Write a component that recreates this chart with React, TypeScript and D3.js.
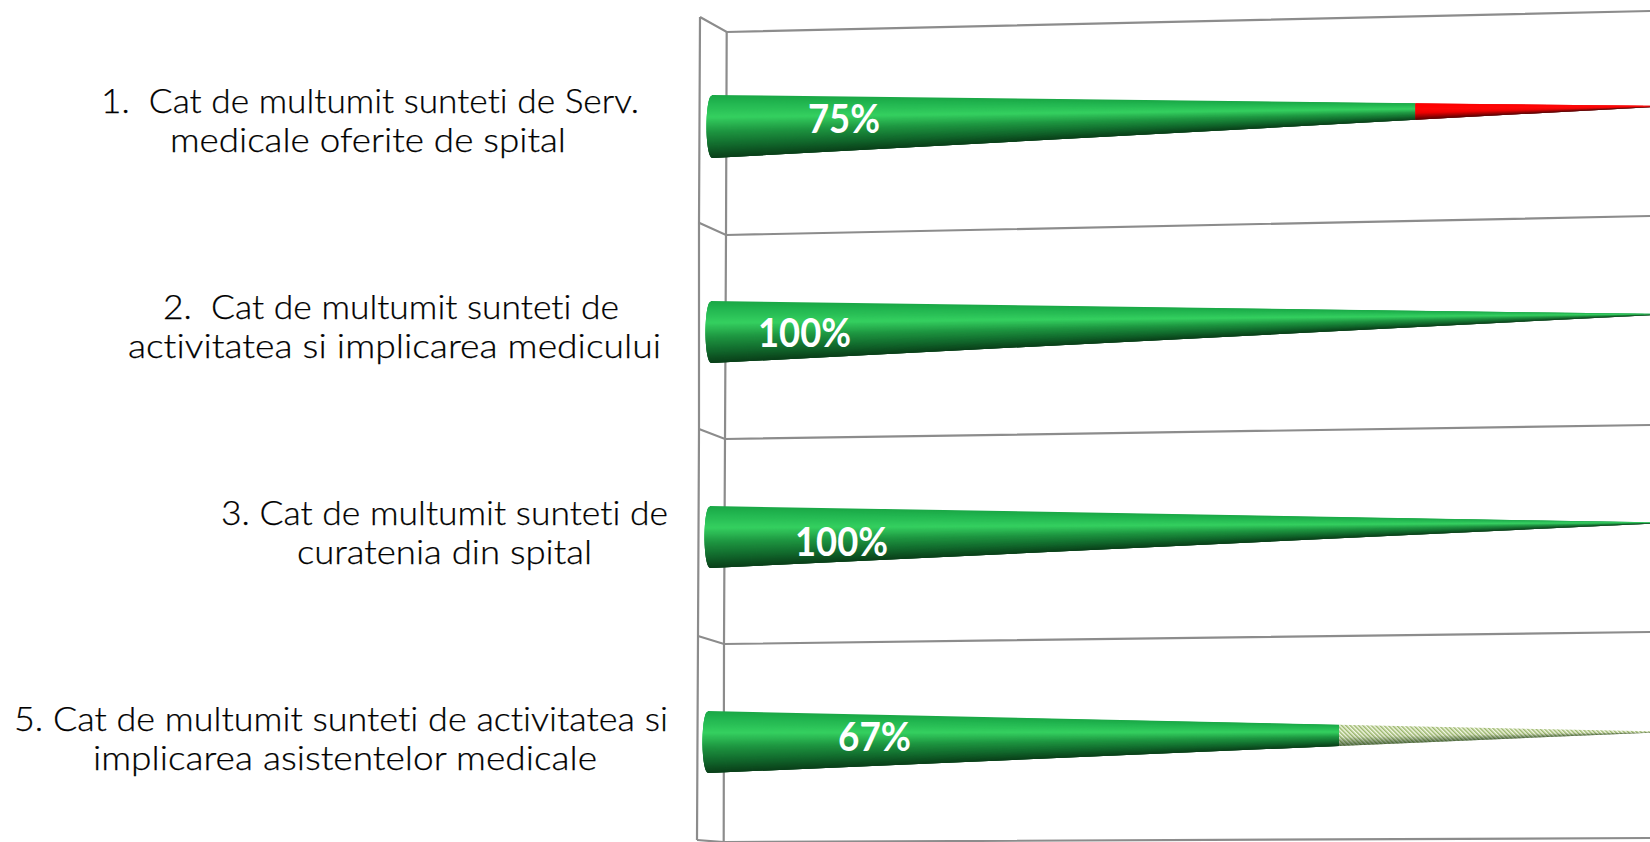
import React from "react";
import * as d3 from "d3";

// ---- data ----
const categoryFirstLines = [
  "1.  Cat de multumit sunteti de Serv.",
  "2.  Cat de multumit sunteti de",
  "3. Cat de multumit sunteti de",
  "5. Cat de multumit sunteti de activitatea si",
];
const categorySecondLines = [
  "medicale oferite de spital",
  "activitatea si implicarea medicului",
  "curatenia din spital",
  "implicarea asistentelor medicale",
];
const satisfied = [75, 100, 100, 67];
const dissatisfied = [25, 0, 0, 0];
const neutral = [0, 0, 0, 33];
const labels = ["75%", "100%", "100%", "67%"];

// ---- layout ----
const W = 1650, H = 842;
const coneBaseX = [712, 711, 710, 708];
const coneTop = [95, 301, 506, 711];
const coneBottom = [158, 363, 568, 773];
const coneTip = [106.5, 314.5, 523, 732];
const tipThickness = 1.3;
const firstLineSpan = [[101, 639], [163, 619], [221, 668], [14, 668]];
const secondLineSpan = [[170, 566], [128, 661], [297, 592], [93, 597]];
const labelSpan = [[808, 880], [758, 851], [795, 888], [838, 911]];
const labelBase = [133, 347, 556, 751];
const gridLeftOuter = [[700, 17], [699, 222.7], [699, 429], [698, 636], [697, 840]];
const gridBackLeft = [[726.7, 32], [726, 235], [725, 439], [724, 644], [723.7, 842]];
const gridRightY = [11, 216, 425, 632, 838];

const shadeStops = [0, 0.12, 0.35, 0.58, 0.82, 1];
const greenStops = ["#1aa746", "#22b550", "#35d060", "#1e9641", "#11662b", "#0a3f19"];
const redStops = ["#f00000", "#ff0000", "#ff0606", "#ee0000", "#980000", "#520000"];
const hatchShade = [0, 0, 0, 0.05, 0.42, 0.75];

const N = 60;
const strips = d3.range(N).map((i) => [i / N, (i + 1) / N]);

function Cone({ row, from, to, kind }: { row: number; from: number; to: number; kind: string }) {
  const x = d3.scaleLinear().domain([0, 100]).range([coneBaseX[row], W]);
  const yAt = (v: number, t: number) =>
    d3.scaleLinear().domain([0, 100]).range([
      d3.interpolateNumber(coneTop[row], coneBottom[row])(t),
      coneTip[row] + (t - 0.5) * tipThickness,
    ])(v);
  const rx = 5.5;
  const xAt = (v: number, t: number) =>
    x(v) - (v === 0 ? rx * Math.sqrt(Math.max(0, 1 - (2 * t - 1) ** 2)) : 0);
  const line = d3.line();
  const quad = (t0: number, t1: number) =>
    line([
      [xAt(from, t0), yAt(from, t0)],
      [xAt(to, t0), yAt(to, t0)],
      [xAt(to, t1), yAt(to, t1)],
      [xAt(from, t1), yAt(from, t1)],
    ]) + "Z";
  const colour = d3
    .scaleLinear<string>()
    .domain(shadeStops)
    .range(kind === "red" ? redStops : greenStops)
    .interpolate(d3.interpolateRgb);
  const shade = d3.scaleLinear().domain(shadeStops).range(hatchShade);
  if (kind === "hatch") {
    return (
      <g>
        <path d={quad(0, 1)} fill="url(#hatch)" />
        {strips.map(([a, b], i) => (
          <path key={i} d={quad(a, b)} fill="#0b2a08" fillOpacity={shade((a + b) / 2)} />
        ))}
      </g>
    );
  }
  return (
    <g>
      {strips.map(([a, b], i) => (
        <path key={i} d={quad(a, Math.min(1, b + 2 / N))} fill={colour((a + b) / 2)} />
      ))}
    </g>
  );
}

export default function App() {
  const textFont = "Lato, 'Open Sans', sans-serif";
  const noLig = { fontVariantLigatures: "none" } as React.CSSProperties;
  return (
    <svg
      width={W}
      height={H}
      viewBox={`0 0 ${W} ${H}`}
      style={{ position: "absolute", left: 0, top: 0, background: "#fff" }}
    >
      <defs>
        <pattern id="hatch" width="3" height="3" patternUnits="userSpaceOnUse" patternTransform="rotate(-45)">
          <rect width="3" height="3" fill="#f4f8e6" />
          <rect width="1.5" height="3" fill="#9ab66c" />
        </pattern>
      </defs>

      <g fill="none" stroke="#8c8c8c" strokeWidth={2.2}>
        <path d={d3.line()(gridLeftOuter as [number, number][]) || ""} />
        <path d={d3.line()(gridBackLeft as [number, number][]) || ""} />
        {gridBackLeft.map((p, i) => (
          <path
            key={i}
            d={d3.line()([gridLeftOuter[i] as [number, number], p as [number, number], [W, gridRightY[i]]]) || ""}
          />
        ))}
      </g>

      {satisfied.map((v, row) => (
        <g key={row}>
          <Cone row={row} from={0} to={v} kind="green" />
          {dissatisfied[row] > 0 && <Cone row={row} from={v} to={v + dissatisfied[row]} kind="red" />}
          {neutral[row] > 0 && <Cone row={row} from={v} to={v + neutral[row]} kind="hatch" />}
        </g>
      ))}

      {labels.map((l, i) => (
        <text
          key={i}
          x={labelSpan[i][0]}
          y={labelBase[i]}
          textLength={labelSpan[i][1] - labelSpan[i][0]}
          lengthAdjust="spacingAndGlyphs"
          fontFamily={textFont}
          fontWeight={700}
          fontSize={40}
          fill="#fff"
        >
          {l}
        </text>
      ))}

      {categoryFirstLines.map((l, i) => (
        <text
          key={i}
          x={firstLineSpan[i][0]}
          y={113 + i * 206}
          textLength={firstLineSpan[i][1] - firstLineSpan[i][0]}
          lengthAdjust="spacingAndGlyphs"
          fontFamily={textFont}
          fontWeight={300}
          fontSize={33}
          fill="#000"
          stroke="#000"
          strokeWidth={0.25}
          style={noLig}
          xmlSpace="preserve"
        >
          {l}
        </text>
      ))}
      {categorySecondLines.map((l, i) => (
        <text
          key={i}
          x={secondLineSpan[i][0]}
          y={152 + i * 206}
          textLength={secondLineSpan[i][1] - secondLineSpan[i][0]}
          lengthAdjust="spacingAndGlyphs"
          fontFamily={textFont}
          fontWeight={300}
          fontSize={33}
          fill="#000"
          stroke="#000"
          strokeWidth={0.25}
          style={noLig}
        >
          {l}
        </text>
      ))}
    </svg>
  );
}
